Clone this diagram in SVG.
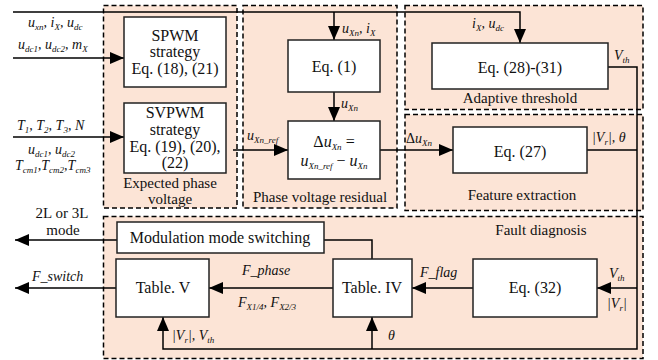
<svg xmlns="http://www.w3.org/2000/svg" width="658" height="360" viewBox="0 0 658 360">
<style>
.reg{fill:#fce4d6;stroke:#000;stroke-width:1.5;stroke-dasharray:5 3}
.box{fill:#fff;stroke:#222;stroke-width:1.5}
.ln{fill:none;stroke:#000;stroke-width:1.5}
text{fill:#111}
.t{font-size:16px}
.r{font-size:15px}
.m{text-anchor:middle}
.i{font-size:14px;font-style:italic}
.s{font-size:9px}
.n{font-style:normal}
</style>
<defs>
<marker id="ah" markerUnits="userSpaceOnUse" markerWidth="14" markerHeight="12" refX="14" refY="6" orient="auto">
<path d="M0,0 L14,6 L0,12 z" fill="#000"/>
</marker>
</defs>
<g font-family="Liberation Serif, Times New Roman, serif">
<g id="regions">
<rect class="reg" x="103.5" y="5.5" width="133.5" height="202.5"/>
<rect class="reg" x="243" y="5.5" width="154" height="202.5"/>
<rect class="reg" x="405" y="5.5" width="238" height="104"/>
<rect class="reg" x="405" y="114.5" width="238" height="96"/>
<rect class="reg" x="103.5" y="216.5" width="539.5" height="142"/>
<text class="r m" x="170" y="188">Expected phase</text>
<text class="r m" x="170" y="204">voltage</text>
<text class="r m" x="320" y="202">Phase voltage residual</text>
<text class="r m" x="520" y="103">Adaptive threshold</text>
<text class="r m" x="522" y="200">Feature extraction</text>
<text class="r m" x="541" y="235">Fault diagnosis</text>
</g>

<g id="connectors">
<path class="ln" d="M13,12 H520 V43" marker-end="url(#ah)"/>
<path class="ln" d="M334,12 V40" marker-end="url(#ah)"/>
<path class="ln" d="M13,58 H124" marker-end="url(#ah)"/>
<path class="ln" d="M13,137 H124" marker-end="url(#ah)"/>
<path class="ln" d="M334,92 V121" marker-end="url(#ah)"/>
<path class="ln" d="M233,150 H288" marker-end="url(#ah)"/>
<path class="ln" d="M380,150 H453" marker-end="url(#ah)"/>
<path class="ln" d="M608,67 H637 V349 H163 V317" marker-end="url(#ah)"/>
<path class="ln" d="M372,349 V317" marker-end="url(#ah)"/>
<path class="ln" d="M587,150 H637"/>
<path class="ln" d="M637,288 H597" marker-end="url(#ah)"/>
<path class="ln" d="M473,288 H412" marker-end="url(#ah)"/>
<path class="ln" d="M333,288 H209" marker-end="url(#ah)"/>
<path class="ln" d="M116,288 H15" marker-end="url(#ah)"/>
<path class="ln" d="M372,259 V240 H324"/>
<path class="ln" d="M117,240 H15" marker-end="url(#ah)"/>
</g>

<g id="labels">
<text class="i" x="28" y="27">u<tspan class="s" dy="2.5">xn</tspan><tspan dy="-2.5">, i</tspan><tspan class="s" dy="2.5">X</tspan><tspan dy="-2.5">, u</tspan><tspan class="s" dy="2.5">dc</tspan></text>
<text class="i" x="18" y="49">u<tspan class="s" dy="2.5">dc1</tspan><tspan dy="-2.5">, u</tspan><tspan class="s" dy="2.5">dc2</tspan><tspan dy="-2.5">, m</tspan><tspan class="s" dy="2.5">X</tspan></text>
<text class="i" x="17" y="130">T<tspan class="s" dy="2.5">1</tspan><tspan dy="-2.5">, T</tspan><tspan class="s" dy="2.5">2</tspan><tspan dy="-2.5">, T</tspan><tspan class="s" dy="2.5">3</tspan><tspan dy="-2.5">, N</tspan></text>
<text class="i" x="28" y="154">u<tspan class="s" dy="2.5">dc1</tspan><tspan dy="-2.5">, u</tspan><tspan class="s" dy="2.5">dc2</tspan></text>
<text class="i" x="15" y="170">T<tspan class="s" dy="2.5">cm1</tspan><tspan dy="-2.5">,T</tspan><tspan class="s" dy="2.5">cm2</tspan><tspan dy="-2.5">,T</tspan><tspan class="s" dy="2.5">cm3</tspan></text>
<text class="i" x="342" y="33">u<tspan class="s" dy="2.5">Xn</tspan><tspan dy="-2.5">, i</tspan><tspan class="s" dy="2.5">X</tspan></text>
<text class="i" x="341" y="108">u<tspan class="s" dy="2.5">Xn</tspan></text>
<text class="i" x="247" y="140">u<tspan class="s" dy="2.5">Xn_ref</tspan></text>
<text class="i" x="472" y="28">i<tspan class="s" dy="2.5">X</tspan><tspan dy="-2.5">, u</tspan><tspan class="s" dy="2.5">dc</tspan></text>
<text class="i" x="614" y="60">V<tspan class="s" dy="2.5">th</tspan></text>
<text class="i" x="406" y="143"><tspan class="n">Δ</tspan>u<tspan class="s" dy="2.5">Xn</tspan></text>
<text class="i" x="592" y="142">|V<tspan class="s" dy="2.5">r</tspan><tspan dy="-2.5">|, θ</tspan></text>
<text class="r m" x="62" y="218">2L or 3L</text>
<text class="r m" x="63" y="235">mode</text>
<text class="i" x="32" y="281">F_switch</text>
<text class="i" x="242" y="275">F_phase</text>
<text class="i" x="238" y="307">F<tspan class="s" dy="2.5">X1/4</tspan><tspan dy="-2.5">, F</tspan><tspan class="s" dy="2.5">X2/3</tspan></text>
<text class="i" x="172" y="340">|V<tspan class="s" dy="2.5">r</tspan><tspan dy="-2.5">|, V</tspan><tspan class="s" dy="2.5">th</tspan></text>
<text class="i" x="420" y="277">F_flag</text>
<text class="i" x="388" y="340">θ</text>
<text class="i" x="609" y="278">V<tspan class="s" dy="2.5">th</tspan></text>
<text class="i" x="607" y="308">|V<tspan class="s" dy="2.5">r</tspan><tspan dy="-2.5">|</tspan></text>
</g>

<g id="spwm">
<rect class="box" x="124" y="17" width="102" height="70"/>
<text class="t m" x="175" y="41">SPWM</text>
<text class="t m" x="175" y="57">strategy</text>
<text class="t m" x="175" y="74">Eq. (18), (21)</text>
</g>
<g id="svpwm">
<rect class="box" x="124" y="103" width="102" height="70"/>
<text class="t m" x="175" y="118">SVPWM</text>
<text class="t m" x="175" y="135">strategy</text>
<text class="t m" x="175" y="152">Eq. (19), (20),</text>
<text class="t m" x="175" y="168">(22)</text>
</g>
<g id="eq1">
<rect class="box" x="288" y="40" width="92" height="52"/>
<text class="t m" x="334" y="72">Eq. (1)</text>
</g>
<g id="residual">
<rect class="box" x="288" y="121" width="92" height="58"/>
<text class="t m" x="334" y="147"><tspan>Δ</tspan><tspan font-style="italic">u</tspan><tspan class="s" font-style="italic" dy="2.5">Xn</tspan><tspan dy="-2.5"> =</tspan></text>
<text class="t m" x="334" y="166"><tspan font-style="italic">u</tspan><tspan class="s" font-style="italic" dy="2.5">Xn_ref</tspan><tspan dy="-2.5"> − </tspan><tspan font-style="italic">u</tspan><tspan class="s" font-style="italic" dy="2.5">Xn</tspan></text>
</g>
<g id="eq28">
<rect class="box" x="432" y="43" width="176" height="46"/>
<text class="t m" x="520" y="73">Eq. (28)-(31)</text>
</g>
<g id="eq27">
<rect class="box" x="453" y="127" width="134" height="46"/>
<text class="t m" x="520" y="157">Eq. (27)</text>
</g>
<g id="modswitch">
<rect class="box" x="117" y="222" width="207" height="31"/>
<text class="t m" x="220" y="243">Modulation mode switching</text>
</g>
<g id="table5">
<rect class="box" x="116" y="259" width="93" height="58"/>
<text class="t m" x="163" y="293">Table. V</text>
</g>
<g id="table4">
<rect class="box" x="333" y="259" width="79" height="58"/>
<text class="t m" x="372" y="293">Table. IV</text>
</g>
<g id="eq32">
<rect class="box" x="473" y="259" width="124" height="58"/>
<text class="t m" x="535" y="293">Eq. (32)</text>
</g>
</g>
</svg>
